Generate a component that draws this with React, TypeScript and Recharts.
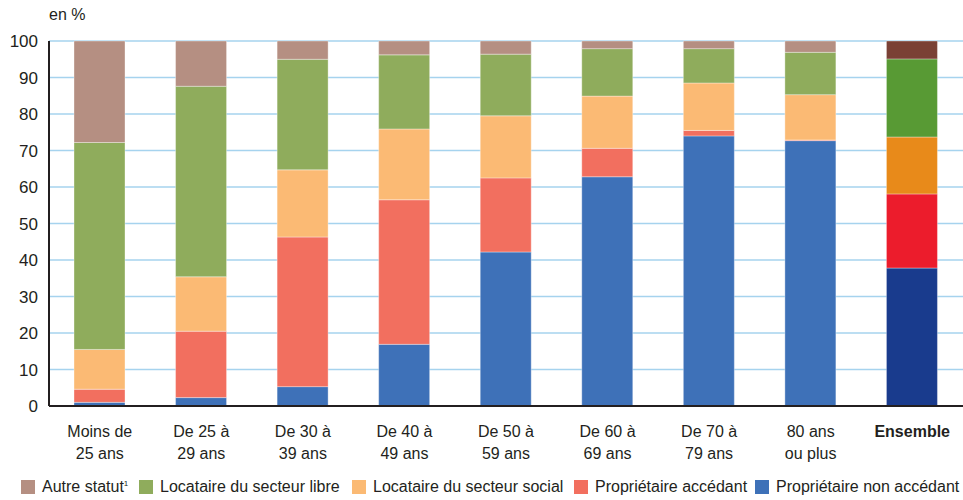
import React from 'react';
import { BarChart, Bar, XAxis, YAxis, CartesianGrid, Cell } from 'recharts';

const categories = [
    'Moins de 25 ans',
    'De 25 à 29 ans',
    'De 30 à 39 ans',
    'De 40 à 49 ans',
    'De 50 à 59 ans',
    'De 60 à 69 ans',
    'De 70 à 79 ans',
    '80 ans ou plus',
    'Ensemble',
];
const tickLines = [
    ['Moins de', '25 ans'],
    ['De 25 à', '29 ans'],
    ['De 30 à', '39 ans'],
    ['De 40 à', '49 ans'],
    ['De 50 à', '59 ans'],
    ['De 60 à', '69 ans'],
    ['De 70 à', '79 ans'],
    ['80 ans', 'ou plus'],
    ['Ensemble'],
];

const nonAccedant = [1.0, 2.3, 5.3, 16.9, 42.2, 62.8, 74.0, 72.7, 37.8];
const accedant = [3.6, 18.2, 41.0, 39.6, 20.3, 7.8, 1.5, 0.2, 20.3];
const social = [10.9, 14.9, 18.4, 19.4, 17.0, 14.3, 13.0, 12.4, 15.6];
const libre = [56.7, 52.2, 30.3, 20.3, 16.9, 13.0, 9.4, 11.6, 21.4];
const autre = [27.8, 12.4, 5.0, 3.8, 3.6, 2.1, 2.1, 3.1, 4.9];

const yTicks = [0, 10, 20, 30, 40, 50, 60, 70, 80, 90, 100];

// stacking order, bottom first
const series = [
    { key: 'nonAccedant', label: 'Propriétaire non accédant', color: '#3e71b8', total: '#193b8d' },
    { key: 'accedant', label: 'Propriétaire accédant', color: '#f26f5f', total: '#ec1c2c' },
    { key: 'social', label: 'Locataire du secteur social', color: '#fbba74', total: '#e88a1a' },
    { key: 'libre', label: 'Locataire du secteur libre', color: '#8fac5c', total: '#589a34' },
    { key: 'autre', label: 'Autre statut', color: '#b58f82', total: '#7a4135' },
];

const data = categories.map((name, i) => ({
    name,
    nonAccedant: nonAccedant[i],
    accedant: accedant[i],
    social: social[i],
    libre: libre[i],
    autre: autre[i],
}));

const FONT = "'Liberation Sans', Arial, sans-serif";
const TEXT = '#231f20';

const XTick = (props: any) => {
    const { x, y, payload } = props;
    const idx = categories.indexOf(payload.value);
    const lines = tickLines[idx] || [payload.value];
    const bold = payload.value === 'Ensemble';
    return (
        <text x={x} y={y} textAnchor="middle" fill={TEXT} fontSize={16} fontFamily={FONT} fontWeight={bold ? 700 : 400}>
            {lines.map((l, i) => (
                <tspan key={i} x={x} dy={i === 0 ? 23 : 22}>{l}</tspan>
            ))}
        </text>
    );
};

const legendX = [21, 139, 352, 574, 755];

export default function App() {
    const legendItems = [...series].reverse();
    return (
        <div style={{ position: 'absolute', left: 0, top: 0, width: 963, height: 500, background: '#fff', fontFamily: FONT }}>
            <div style={{ position: 'absolute', left: 49, top: 6, fontSize: 16, color: TEXT }}>en %</div>
            <BarChart
                width={963}
                height={500}
                data={data}
                margin={{ top: 41, right: 0, left: 0, bottom: 0 }}
                barSize={51}
            >
                <CartesianGrid vertical={false} stroke="#a6d3ee" strokeWidth={1.3} />
                <XAxis
                    dataKey="name"
                    interval={0}
                    tickLine={false}
                    axisLine={{ stroke: TEXT, strokeWidth: 2 }}
                    tick={<XTick />}
                    height={94}
                />
                <YAxis
                    domain={[0, 100]}
                    ticks={yTicks}
                    width={49}
                    tickLine={false}
                    axisLine={{ stroke: TEXT, strokeWidth: 2 }}
                    tick={{ fill: TEXT, fontSize: 17, fontFamily: FONT }}
                    tickMargin={5}
                />
                {series.map((s) => (
                    <Bar key={s.key} dataKey={s.key} stackId="a" fill={s.color} stroke="#ffffff" strokeOpacity={0.35} strokeWidth={1} isAnimationActive={false}>
                        {data.map((d, i) => (
                            <Cell key={i} fill={d.name === 'Ensemble' ? s.total : s.color} />
                        ))}
                    </Bar>
                ))}
            </BarChart>
            {legendItems.map((s, i) => (
                <div key={s.key} style={{ position: 'absolute', left: legendX[i], top: 477, height: 19, display: 'flex', alignItems: 'center', fontSize: 16, color: TEXT, whiteSpace: 'nowrap', lineHeight: '19px' }}>
                    <span style={{ display: 'inline-block', width: 14, height: 14, background: s.color, marginRight: 7 }} />
                    <span>
                        {s.label}
                        {s.key === 'autre' ? <sup style={{ fontSize: 8, lineHeight: 0, verticalAlign: 6 }}>1</sup> : null}
                    </span>
                </div>
            ))}
        </div>
    );
}
